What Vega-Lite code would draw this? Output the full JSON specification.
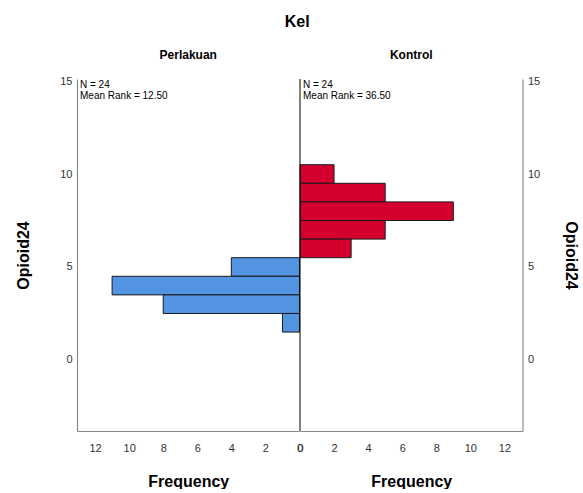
{
  "$schema": "https://vega.github.io/schema/vega-lite/v6.json",
  "padding": {"left": 15, "top": 14, "right": 0, "bottom": 0},
  "background": "white",
  "spacing": 0,
  "bounds": "flush",
  "title": {"text": "Kel", "fontSize": 16, "font": "Liberation Sans", "fontWeight": "bold", "anchor": "middle", "offset": 19, "color": "#000"},
  "config": {
    "view": {"stroke": null},
    "font": "Liberation Sans",
    "axis": {"grid": false, "ticks": false, "domainColor": "#8a8a8a", "domainWidth": 1.2, "labelFont": "Liberation Sans", "labelFontSize": 11, "labelColor": "#333", "titleFont": "Liberation Sans", "titleFontSize": 16, "titleFontWeight": "bold", "titleColor": "#000", "labelFlush": false, "labelOverlap": false},
    "axisX": {"labelOverlap": false, "labelSeparation": 0, "tickCount": 7},
    "title": {"font": "Liberation Sans"}
  },
  "hconcat": [
    {
      "width": 222.5,
      "height": 352,
      "title": {"text": "Perlakuan", "fontSize": 12, "fontWeight": "bold", "offset": 13, "color": "#000"},
      "layer": [
        {
          "data": {"values": [
            {"kel": "Perlakuan", "lo": 4.5, "hi": 5.5, "count": 4},
            {"kel": "Perlakuan", "lo": 3.5, "hi": 4.5, "count": 11},
            {"kel": "Perlakuan", "lo": 2.5, "hi": 3.5, "count": 8},
            {"kel": "Perlakuan", "lo": 1.5, "hi": 2.5, "count": 1}
          ]},
          "mark": {"type": "bar", "fill": "#5294e2", "stroke": "#1a1a1a", "strokeWidth": 1},
          "encoding": {
            "x": {"field": "count", "type": "quantitative", "scale": {"domain": [0, 13.06], "nice": false, "reverse": true}, "axis": {"values": [0, 2, 4, 6, 8, 10, 12], "title": "Frequency", "labelPadding": 11, "titlePadding": 20, "labelOverlap": false, "labelFlush": false}},
            "x2": {"datum": 0},
            "y": {"field": "lo", "type": "quantitative", "scale": {"domain": [-3.82, 15.11], "nice": false, "zero": false}, "axis": {"orient": "left", "values": [0, 5, 10, 15], "title": "Opioid24", "labelPadding": 5, "titlePadding": 28, "labelOverlap": false}},
            "y2": {"field": "hi"}
          }
        },
        {
          "data": {"values": [{"label": ["N = 24", "Mean Rank = 12.50"]}]},
          "mark": {"type": "text", "align": "left", "baseline": "top", "dx": 3, "dy": 1, "fontSize": 10, "lineHeight": 10.5, "color": "#000", "font": "Liberation Sans"},
          "encoding": {
            "text": {"field": "label"},
            "x": {"datum": 13.06, "type": "quantitative", "axis": {"values": [0, 2, 4, 6, 8, 10, 12], "title": "Frequency", "labelPadding": 11, "titlePadding": 20, "labelOverlap": false, "labelFlush": false}},
            "y": {"datum": 15.11, "type": "quantitative"}
          }
        }
      ]
    },
    {
      "width": 222.5,
      "height": 352,
      "title": {"text": "Kontrol", "fontSize": 12, "fontWeight": "bold", "offset": 13, "color": "#000"},
      "layer": [
        {
          "data": {"values": [
            {"kel": "Kontrol", "lo": 9.5, "hi": 10.5, "count": 2},
            {"kel": "Kontrol", "lo": 8.5, "hi": 9.5, "count": 5},
            {"kel": "Kontrol", "lo": 7.5, "hi": 8.5, "count": 9},
            {"kel": "Kontrol", "lo": 6.5, "hi": 7.5, "count": 5},
            {"kel": "Kontrol", "lo": 5.5, "hi": 6.5, "count": 3}
          ]},
          "mark": {"type": "bar", "fill": "#d3002e", "stroke": "#1a1a1a", "strokeWidth": 1},
          "encoding": {
            "x": {"field": "count", "type": "quantitative", "scale": {"domain": [0, 13.06], "nice": false}, "axis": {"values": [0, 2, 4, 6, 8, 10, 12], "title": "Frequency", "labelPadding": 11, "titlePadding": 20, "labelOverlap": false, "labelFlush": false}},
            "x2": {"datum": 0},
            "y": {"field": "lo", "type": "quantitative", "scale": {"domain": [-3.82, 15.11], "nice": false, "zero": false}, "axis": {"orient": "right", "values": [0, 5, 10, 15], "title": "Opioid24", "titleAngle": 90, "labelPadding": 5, "titlePadding": 23, "labelOverlap": false}},
            "y2": {"field": "hi"}
          }
        },
        {
          "data": {"values": [{"label": ["N = 24", "Mean Rank = 36.50"]}]},
          "mark": {"type": "text", "align": "left", "baseline": "top", "dx": 3, "dy": 1, "fontSize": 10, "lineHeight": 10.5, "color": "#000", "font": "Liberation Sans"},
          "encoding": {
            "text": {"field": "label"},
            "x": {"datum": 0, "type": "quantitative", "axis": {"values": [0, 2, 4, 6, 8, 10, 12], "title": "Frequency", "labelPadding": 11, "titlePadding": 20, "labelOverlap": false, "labelFlush": false}},
            "y": {"datum": 15.11, "type": "quantitative"}
          }
        },
        {
          "data": {"values": [{"kel": "Kontrol"}]},
          "mark": {"type": "rule", "color": "#000", "strokeWidth": 1},
          "encoding": {"x": {"datum": 0, "type": "quantitative"}}
        }
      ]
    }
  ]
}
